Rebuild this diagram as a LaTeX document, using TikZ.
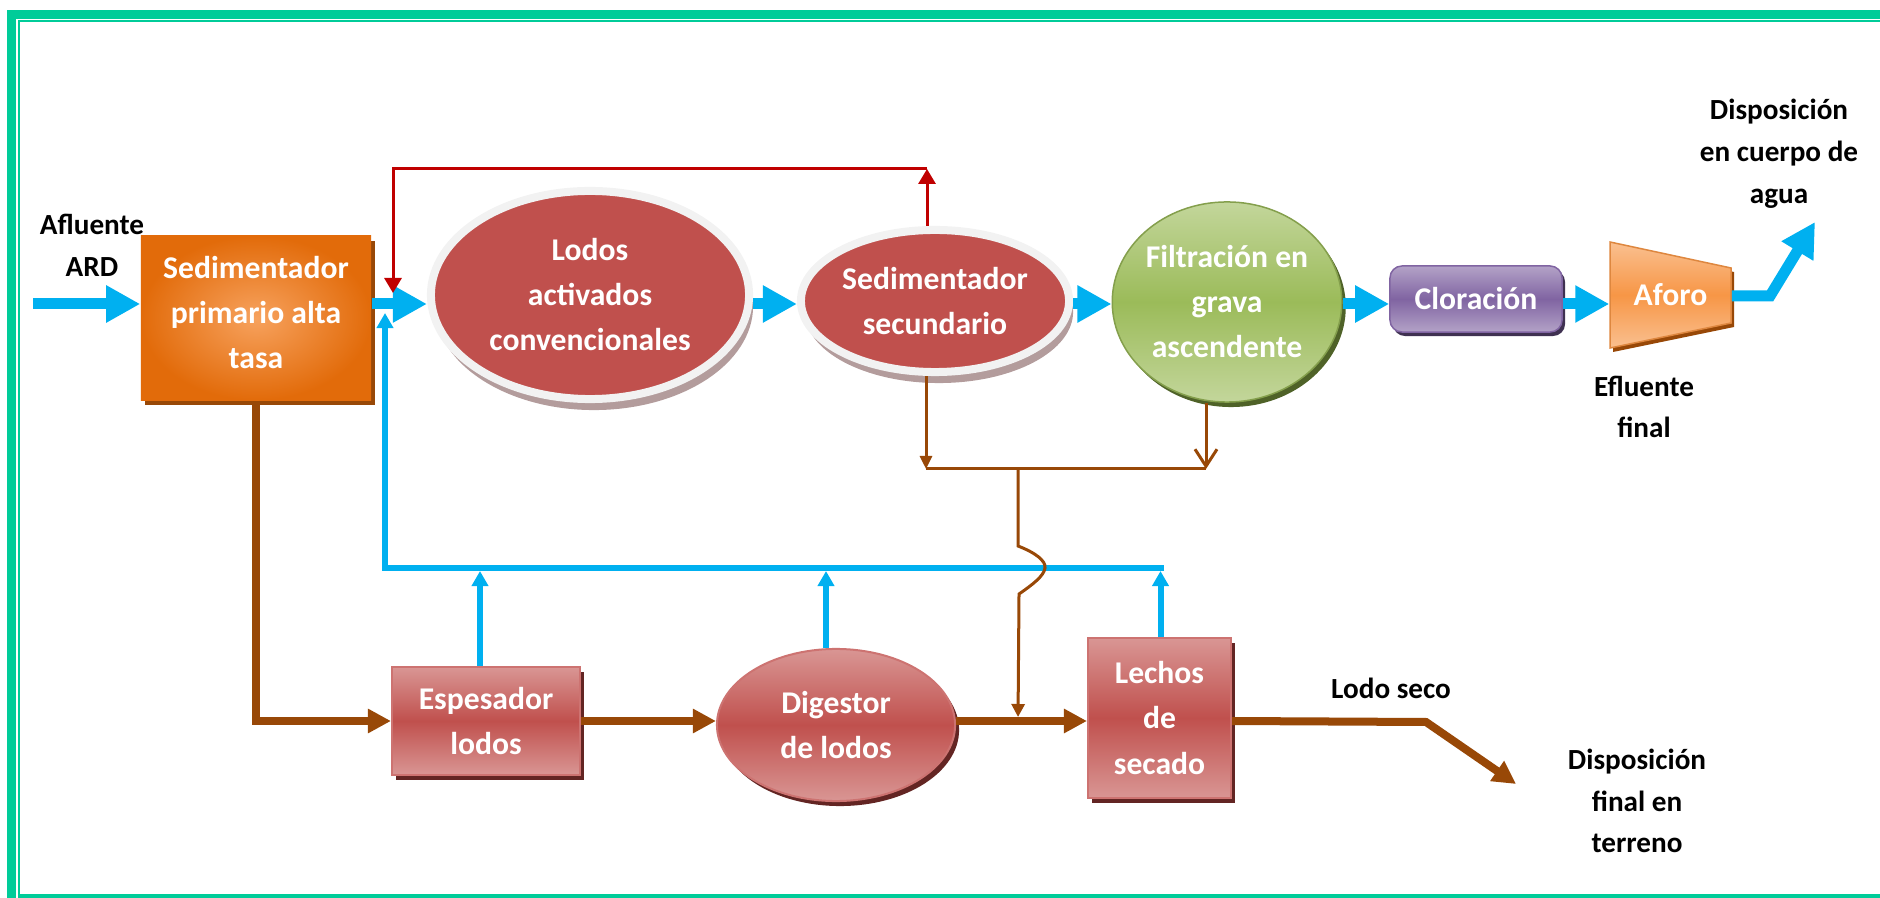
\documentclass[tikz,border=0pt]{standalone}
\usepackage{fontspec}
\setmainfont{Carlito}
\usepackage{tikz}
\usetikzlibrary{arrows.meta,shapes.geometric,shadows}

\definecolor{framegreen}{HTML}{00CC99}
\definecolor{flowblue}{HTML}{00B0F0}
\definecolor{sludgebrown}{HTML}{984807}
\definecolor{recycred}{HTML}{C00000}
\definecolor{unitred}{HTML}{C0504D}
\definecolor{unitredlight}{HTML}{D99694}
\definecolor{unitredshadow}{HTML}{632523}
\definecolor{ringgray}{HTML}{F2F2F2}
\definecolor{ringshadow}{HTML}{B39C9C}
\definecolor{primorange}{HTML}{E26B0A}
\definecolor{primglow}{HTML}{F7A25E}
\definecolor{filtgreen}{HTML}{9BBB59}
\definecolor{filtlight}{HTML}{C3D69B}
\definecolor{filtshadow}{HTML}{4F6228}
\definecolor{clorpurple}{HTML}{8064A2}
\definecolor{clorlight}{HTML}{B3A2C7}
\definecolor{clorshadow}{HTML}{3F3151}
\definecolor{aforoorange}{HTML}{F79646}
\definecolor{aforolight}{HTML}{FAC090}

\begin{document}
\begin{tikzpicture}[x=0.01cm,y=-0.01cm]

	\tikzstyle unit text=[text=white, font=\fontsize{9}{12.8}\selectfont\bfseries, align=center, inner sep=0pt];
	\tikzstyle tag text=[text=black, font=\fontsize{8.3}{11.9}\selectfont\bfseries, align=center, inner sep=0pt];
	\tikzstyle ringed unit=[unit text, ellipse, fill=unitred, draw=ringgray, line width=0.08cm, drop shadow={shadow xshift=0.04cm, shadow yshift=-0.11cm, fill=ringshadow, opacity=1}];
	\tikzstyle sludge unit=[unit text, draw=unitred!80!white, line width=0.02cm, top color=unitredlight, bottom color=unitredlight, middle color=unitred, drop shadow={shadow xshift=0.04cm, shadow yshift=-0.05cm, fill=unitredshadow, opacity=1}];
	\tikzstyle main flow=[draw=flowblue, line width=0.11cm, -{Triangle[length=0.34cm,width=0.35cm]}];
	\tikzstyle return flow=[draw=flowblue, line width=0.06cm, -{Triangle[length=0.15cm,width=0.16cm]}];
	\tikzstyle sludge flow=[draw=sludgebrown, line width=0.08cm, -{Triangle[length=0.23cm,width=0.23cm]}];
	\tikzstyle sludge line=[draw=sludgebrown, line width=0.03cm];
	\tikzstyle recycle line=[draw=recycred, line width=0.03cm, -{Triangle[length=0.15cm,width=0.17cm]}];

	\useasboundingbox (0,0) rectangle (1880,898);
	\clip (0,0) rectangle (1880,898);

	% marco
	\draw[framegreen, line width=0.09cm] (11.5,950) -- (11.5,14.5) -- (1950,14.5);
	\draw[framegreen, line width=0.02cm] (19,896) -- (19,21) -- (1950,21);
	\draw[framegreen, line width=0.04cm] (18,896) -- (1950,896);

	% linea de agua
	\node[unit text, rectangle, minimum width=2.30cm, minimum height=1.64cm, text depth=0.12cm, inner color=primglow, outer color=primorange,
		drop shadow={shadow xshift=0.04cm, shadow yshift=-0.05cm, fill=sludgebrown, opacity=1}] (sedp) at (256,318) {Sedimentador\\primario alta\\tasa};
	\node[ringed unit, minimum width=3.18cm, minimum height=2.08cm] (lodos) at (590,295) {Lodos\\activados\\convencionales};
	\node[ringed unit, minimum width=2.68cm, minimum height=1.42cm] (sedsec) at (935,301) {Sedimentador\\secundario};
	\node[unit text, ellipse, minimum width=2.10cm, minimum height=2.00cm, draw=filtgreen!85!black, line width=0.015cm,
		top color=filtlight, bottom color=filtlight, middle color=filtgreen,
		drop shadow={shadow xshift=0.04cm, shadow yshift=-0.05cm, fill=filtshadow, opacity=1}] (filt) at (1227,302) {Filtración en\\grava\\ascendente};
	\node[unit text, rectangle, rounded corners=0.12cm, minimum width=1.72cm, minimum height=0.66cm, draw=clorpurple, line width=0.015cm,
		top color=clorlight, bottom color=clorlight, middle color=clorpurple,
		drop shadow={shadow xshift=0.03cm, shadow yshift=-0.04cm, fill=clorshadow, opacity=1}] (clor) at (1476,299) {Cloración};

	\fill[sludgebrown] (1613,246) -- (1734,272) -- (1734,327) -- (1613,352) -- cycle;
	\shadedraw[draw=aforoorange!90!black, line width=0.015cm, top color=aforolight, bottom color=aforolight, middle color=aforoorange]
		(1610,242) -- (1731,268) -- (1731,323) -- (1610,348) -- cycle;
	\node[unit text, rectangle, minimum width=1.21cm, minimum height=1.06cm] (aforo) at (1670.5,295) {Aforo};

	% linea de lodos
	\node[sludge unit, rectangle, minimum width=1.88cm, minimum height=1.08cm] (esp) at (486,721) {Espesador\\lodos};
	\node[sludge unit, ellipse, minimum width=2.38cm, minimum height=1.52cm] (dig) at (836,725) {Digestor\\de lodos};
	\node[sludge unit, rectangle, minimum width=1.43cm, minimum height=1.60cm] (lech) at (1159.5,718) {Lechos\\de\\secado};

	% textos
	\node[tag text] (afluente) at (92,245) {Afluente\\ARD};
	\node[tag text] (dispagua) at (1779,154) {Disposición\\en cuerpo de\\agua};
	\node[tag text] (efluente) at (1644,407) {Efluente\\final};
	\node[tag text] (lodoseco) at (1391,688) {Lodo seco};
	\node[tag text] (dispterreno) at (1637,801) {Disposición\\final en\\terreno};

	% flechas de agua
	\coordinate (inlet) at (33,304);
	\coordinate (mainline) at (0,304);
	\draw[main flow] (inlet) -- (sedp.west |- inlet);
	\foreach \a/\b in {sedp/lodos,lodos/sedsec,sedsec/filt,filt/clor,clor/aforo}
		\draw[main flow] (\a.east |- mainline) -- (\b.west |- mainline);
	\coordinate (outbend) at (1770,296);
	\coordinate (outtip) at (1815,222);
	\draw[main flow] (aforo.east |- outbend) -- (outbend) -- (outtip);

	% recirculacion
	\coordinate (rectop) at (927,169);
	\coordinate (recin) at (393,293);
	\draw[recycle line] (sedsec.north -| rectop) -- (rectop);
	\draw[recycle line] (rectop) -| (recin);

	% sobrenadante
	\coordinate (retcorner) at (1164,568);
	\coordinate (retin) at (385,313);
	\foreach \u/\dx in {esp/-6,dig/-10,lech/1}
		\draw[return flow, shorten >=0.03cm] ([xshift=\dx*0.01cm]\u.north) -- ([xshift=\dx*0.01cm]\u.north |- retcorner);
	\draw[return flow] (retcorner) -| (retin);

	% lodos
	\draw[sludge flow] (sedp.south) |- (esp.west);
	\draw[sludge flow] (esp.east) -- (dig.west |- esp.east);
	\draw[sludge flow] (dig.east |- esp.east) -- (lech.west |- esp.east);
	\coordinate (lodobend) at (1426,722);
	\coordinate (lodotip) at (1516,784);
	\draw[sludge flow] (lech.east |- esp.east) -- (lodobend) -- (lodotip);

	% purga de lodos
	\coordinate (purga) at (1018,469);
	\draw[sludge line, -{Triangle[length=0.13cm,width=0.12cm]}] ([xshift=-0.09cm]sedsec.south) -- ([xshift=-0.09cm]sedsec.south |- purga);
	\draw[sludge line, -{Straight Barb[length=0.17cm,width=0.22cm]}] ([xshift=-0.21cm]filt.south) -- ([xshift=-0.21cm]filt.south |- purga);
	\draw[sludge line] ([xshift=-0.09cm]sedsec.south |- purga) -- ([xshift=-0.21cm]filt.south |- purga);
	\draw[sludge line, shorten >=0.04cm, -{Triangle[length=0.13cm,width=0.13cm]}] (purga) -- (1018,546)
		.. controls (1036,553) and (1046,561) .. (1045,568) .. controls (1044,576) and (1032,585) .. (1019,594) -- (purga |- esp.east);

\end{tikzpicture}
\end{document}
